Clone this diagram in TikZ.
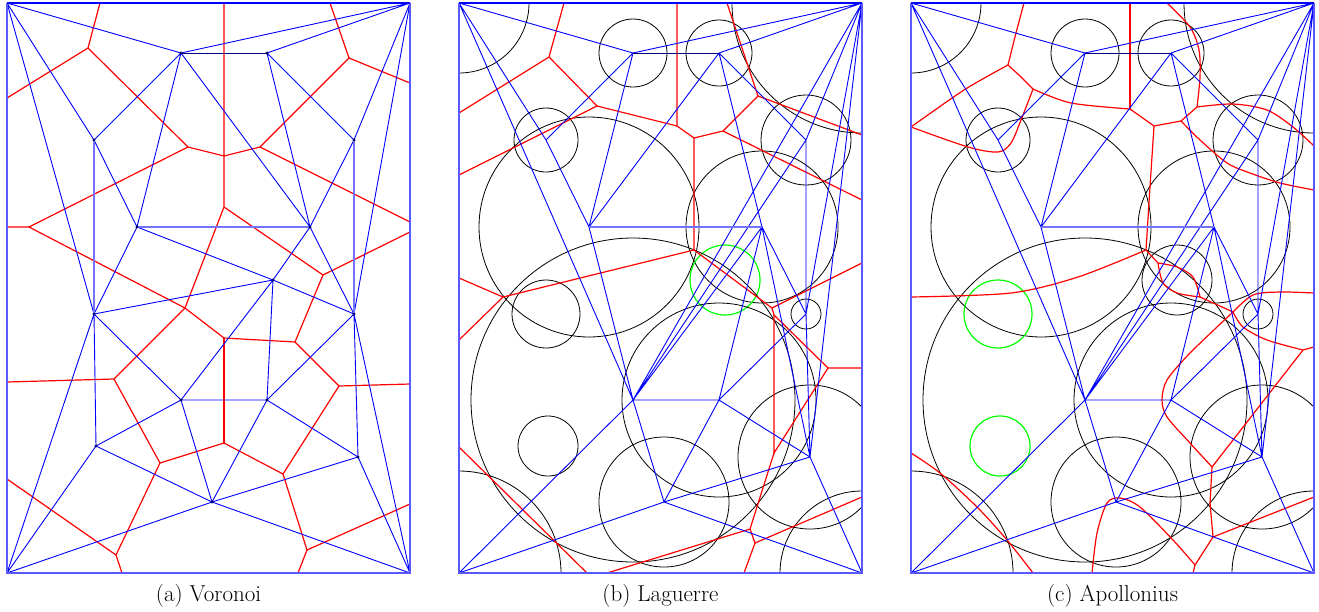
\documentclass[tikz,border=0pt]{standalone}
\usepackage{tikz}
\newcommand\mksites[1]{%
  \coordinate (#1TL) at (0,0);
  \coordinate (#1TR) at (403,0);
  \coordinate (#1BL) at (0,570);
  \coordinate (#1BR) at (403,570);
  \coordinate (#1A) at (174,50);
  \coordinate (#1B) at (260,50);
  \coordinate (#1C) at (87,137);
  \coordinate (#1D) at (347,137);
  \coordinate (#1E) at (130,224);
  \coordinate (#1F) at (303,224);
  \coordinate (#1G) at (266,277);
  \coordinate (#1H) at (87,311);
  \coordinate (#1I) at (347,311);
  \coordinate (#1J) at (174,397);
  \coordinate (#1K) at (260,397);
  \coordinate (#1L) at (89,443);
  \coordinate (#1M) at (351,454);
  \coordinate (#1N) at (205,499);
}
\newcommand\mkcircles[3]{% prefix, style of G, style of H and L
  \draw[wcircle] (#1TL) circle[radius=70];
  \draw[wcircle] (#1TR) circle[radius=130];
  \draw[wcircle] (#1BL) circle[radius=102];
  \draw[wcircle] (#1BR) circle[radius=82];
  \draw[wcircle] (#1A) circle[radius=34];
  \draw[wcircle] (#1B) circle[radius=33];
  \draw[wcircle] (#1C) circle[radius=32];
  \draw[wcircle] (#1D) circle[radius=45];
  \draw[wcircle] (#1E) circle[radius=110];
  \draw[wcircle] (#1F) circle[radius=76];
  \draw[#2] (#1G) circle[radius=35];
  \draw[#3] (#1H) circle[radius=34];
  \draw[wcircle] (#1I) circle[radius=15];
  \draw[wcircle] (#1J) circle[radius=162];
  \draw[wcircle] (#1K) circle[radius=97];
  \draw[#3] (#1L) circle[radius=30];
  \draw[wcircle] (#1M) circle[radius=72];
  \draw[wcircle] (#1N) circle[radius=65];
}
\newcommand\mkframe[1]{%
  \draw[frameside] (#1TR) -- (#1BR) -- (#1BL) -- (#1TL);
  \draw[frametop] (#1TL) -- (#1TR);
}
\newcommand\weightededges[1]{%
  \draw[blueedge] (#1TL) -- (#1A) (#1TL) -- (#1C) (#1TL) -- (#1J) (#1A) -- (#1C)
    (#1C) -- (#1E) (#1A) -- (#1E) (#1A) -- (#1TR) (#1B) -- (#1TR)
    (#1B) -- (#1E) (#1B) -- (#1F) (#1B) -- (#1D) (#1E) -- (#1J) (#1J) -- (#1F)
    (#1J) -- (#1D) (#1J) -- (#1TR) (#1F) -- (#1K) (#1F) -- (#1M)
    (#1J) -- (#1K) (#1J) -- (#1N) (#1J) -- (#1BL) (#1BL) -- (#1N) (#1K) -- (#1N)
    (#1N) -- (#1M) (#1N) -- (#1BR) (#1K) -- (#1I) (#1K) -- (#1M)
    (#1I) -- (#1M) (#1D) -- (#1I) (#1F) -- (#1I) (#1TR) -- (#1D)
    (#1TR) -- (#1I) (#1TR) -- (#1M) (#1M) -- (#1BR);
  \draw[darkedge] (#1A) -- (#1B);
  \draw[lightedge] (#1E) -- (#1F);
  \mkframe{#1}
}
\begin{document}
\begin{tikzpicture}[x=1pt,y=-1pt]
\tikzset{
  blueedge/.style={blue, line width=0.9pt},
  darkedge/.style={blue!50!black, line width=0.9pt},
  lightedge/.style={blue!55, line width=1.4pt},
  frametop/.style={blue, line width=1.1pt},
  frameside/.style={blue!65, line width=1.3pt},
  rededge/.style={red, line width=1.2pt},
  wcircle/.style={black, line width=0.8pt},
  gcircle/.style={green, line width=1.2pt},
  sitedot/.style={fill=blue!40!black},
  captext/.style={font=\fontsize{23}{27}\selectfont, inner sep=0pt}
}
\useasboundingbox (0,0) rectangle (1319,611);
% ---------------- panel (a) Voronoi ----------------
\begin{scope}[shift={(7,3)}]
  \mksites{a}
  \begin{scope}
    \clip (0,0) rectangle (403,570);
    \draw[rededge] (93,0) -- (81,45) -- (0,95);
    \draw[rededge] (81,45) -- (181,144) -- (217,153) -- (217,0);
    \draw[rededge] (217,153) -- (253,144) -- (342,55) -- (323,0);
    \draw[rededge] (342,55) -- (403,80);
    \draw[rededge] (253,144) -- (403,219);
    \draw[rededge] (181,144) -- (22,224) -- (0,224);
    \draw[rededge] (22,224) -- (178,305);
    \draw[rededge] (217,153) -- (217,204) -- (178,305);
    \draw[rededge] (217,204) -- (316,272) -- (403,229);
    \draw[rededge] (316,272) -- (288,339);
    \draw[rededge] (178,305) -- (107,376) -- (0,379);
    \draw[rededge] (178,305) -- (217,335) -- (288,339) -- (332,383) -- (403,381);
    \draw[rededge] (217,335) -- (217,440);
    \draw[rededge] (107,376) -- (153,460) -- (217,440) -- (276,471) -- (332,383);
    \draw[rededge] (153,460) -- (109,552) -- (115,570);
    \draw[rededge] (109,552) -- (0,476);
    \draw[rededge] (276,471) -- (300,547) -- (291,570);
    \draw[rededge] (300,547) -- (403,501);
  \end{scope}
  \draw[blueedge] (aTL) -- (aA) (aTL) -- (aC) (aTL) -- (aH)
    (aA) -- (aTR) (aB) -- (aTR) (aD) -- (aTR) (aI) -- (aTR)
    (aA) -- (aC) (aA) -- (aE) (aA) -- (aF) (aB) -- (aF) (aB) -- (aD)
    (aC) -- (aE) (aD) -- (aF) (aE) -- (aH) (aE) -- (aG) (aF) -- (aG)
    (aF) -- (aI) (aH) -- (aG) (aG) -- (aK) (aG) -- (aJ) (aG) -- (aI)
    (aH) -- (aJ) (aH) -- (aL) (aH) -- (aBL) (aJ) -- (aK) (aJ) -- (aL)
    (aJ) -- (aN) (aK) -- (aN) (aK) -- (aI) (aK) -- (aM) (aI) -- (aM)
    (aI) -- (aBR) (aL) -- (aN) (aL) -- (aBL) (aN) -- (aBL) (aN) -- (aM)
    (aN) -- (aBR) (aM) -- (aBR);
  \draw[darkedge] (aA) -- (aB);
  \draw[lightedge] (aC) -- (aH) (aD) -- (aI) (aE) -- (aF);
  \mkframe{a}
  \foreach \s in {A,B,C,D,E,F,G,H,I,J,K,L,M,N}{\fill[sitedot] (a\s) circle[radius=1.7];}
  \node[captext] (capa) at (201.5,593) {(a) Voronoi};
\end{scope}
% ---------------- panel (b) Laguerre ----------------
\begin{scope}[shift={(459,3)}]
  \mksites{b}
  \begin{scope}
    \clip (0,0) rectangle (403,570);
    \mkcircles{b}{gcircle}{wcircle}
    \draw[rededge] (105,0) -- (90,54) -- (0,110);
    \draw[rededge] (90,54) -- (138,103) -- (0,172);
    \draw[rededge] (138,103) -- (218,123) -- (218,0);
    \draw[rededge] (218,123) -- (235,135) -- (264,128) -- (299,93) -- (268,0);
    \draw[rededge] (299,93) -- (403,132);
    \draw[rededge] (264,128) -- (403,197);
    \draw[rededge] (235,135) -- (235,247) -- (44,294) -- (0,275);
    \draw[rededge] (44,294) -- (0,337);
    \draw[rededge] (235,247) -- (313,305) -- (403,260);
    \draw[rededge] (313,305) -- (315,312) -- (369,365) -- (403,365);
    \draw[rededge] (315,312) -- (315,450) -- (369,365);
    \draw[rededge] (315,450) -- (291,526) -- (148,570);
    \draw[rededge] (291,526) -- (296,540) -- (403,494);
    \draw[rededge] (296,540) -- (285,570);
    \draw[rededge] (0,444) -- (128,570);
  \end{scope}
  \weightededges{b}
  \node[captext] (capb) at (201.5,593) {(b) Laguerre};
\end{scope}
% ---------------- panel (c) Apollonius ----------------
\begin{scope}[shift={(911,3)}]
  \mksites{c}
  \begin{scope}
    \clip (0,0) rectangle (403,570);
    \mkcircles{c}{wcircle}{gcircle}
    \draw[rededge] plot[smooth] coordinates {(113,0) (105,30) (97,62)};
    \draw[rededge] plot[smooth] coordinates {(97,62) (53,87) (0,124)};
    \draw[rededge] plot[smooth] coordinates {(97,62) (110,74) (122,86)};
    \draw[rededge] plot[smooth] coordinates {(122,86) (160,100) (219,106)};
    \draw[rededge] plot[smooth] coordinates {(122,86) (110,117) (100,140) (87,149) (57,144) (0,124)};
    \draw[rededge] (219,0) -- (219,106);
    \draw[rededge] (219,106) -- (243,123) -- (270,118) -- (286,104);
    \draw[rededge] plot[smooth] coordinates {(286,104) (289,74) (288,47) (279,24) (256,0)};
    \draw[rededge] plot[smooth] coordinates {(286,104) (322,101) (356,107) (382,124) (403,143)};
    \draw[rededge] plot[smooth] coordinates {(270,118) (289,137) (316,160) (339,170) (369,180) (403,187)};
    \draw[rededge] plot[smooth] coordinates {(243,123) (239,184) (235,247)};
    \draw[rededge] plot[smooth] coordinates {(0,294) (100,290) (167,274) (235,247)};
    \draw[rededge] (235,247) -- (247,260);
    \draw[rededge] plot[smooth] coordinates {(247,260) (266,264) (282,274) (289,294)};
    \draw[rededge] plot[smooth] coordinates {(247,260) (252,280) (266,290) (289,294)};
    \draw[rededge] (289,294) -- (322,309);
    \draw[rededge] plot[smooth] coordinates {(322,309) (342,292) (369,289) (403,290)};
    \draw[rededge] plot[smooth] coordinates {(322,309) (332,324) (356,337) (392,347)};
    \draw[rededge] (392,347) -- (403,344);
    \draw[rededge] (392,347) -- (301,464);
    \draw[rededge] plot[smooth] coordinates {(322,309) (279,350) (256,377) (251,397) (256,414) (279,440) (301,464)};
    \draw[rededge] (301,464) -- (299,500) -- (302,534);
    \draw[rededge] (302,534) -- (403,494);
    \draw[rededge] (302,534) -- (284,562) -- (282,570);
    \draw[rededge] plot[smooth] coordinates {(284,562) (262,537) (229,504) (209,495) (196,500) (186,530) (181,570)};
    \draw[rededge] plot[smooth] coordinates {(0,450) (29,470) (66,504) (96,537) (122,570)};
  \end{scope}
  \weightededges{c}
  \node[captext] (capc) at (201.5,593) {(c) Apollonius};
\end{scope}
\end{tikzpicture}
\end{document}
